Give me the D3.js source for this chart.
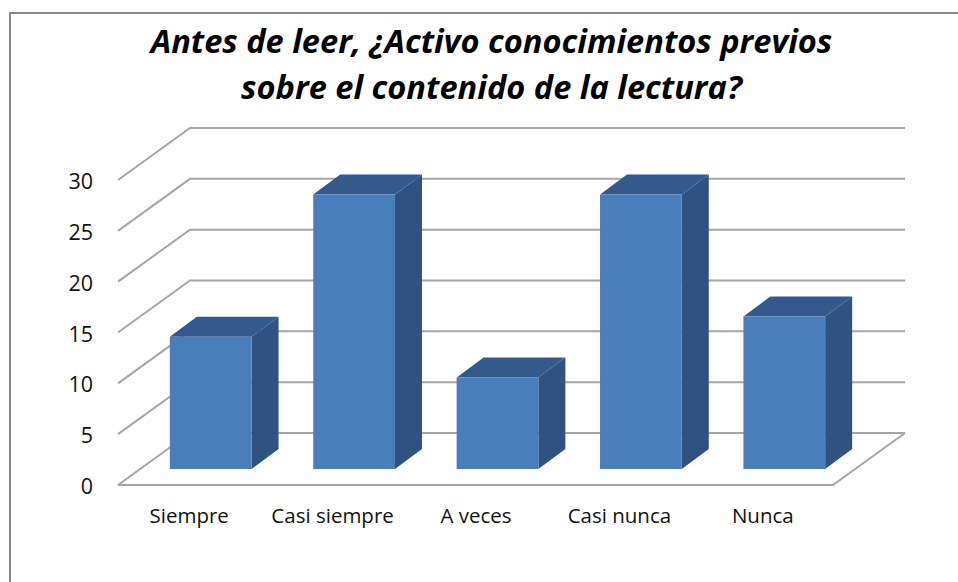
<!DOCTYPE html>
<html><head><meta charset="utf-8">
<script src="https://cdn.jsdelivr.net/npm/d3@7"></script>
<style>html,body{margin:0;padding:0;background:#fff;overflow:hidden}</style>
</head><body><svg id="c" width="958" height="582"></svg>
<script>
const categories = ["Siempre","Casi siempre","A veces","Casi nunca","Nunca"];
const values = [13,27,9,27,15];
const yTicks = [0,5,10,15,20,25,30];
const titleLines = ["Antes de leer, ¿Activo conocimientos previos","sobre el contenido de la lectura?"];

const svg = d3.select("#c");
const font = "'Open Sans', sans-serif";
const back = {x0:190,x1:905,y0:433,y1:128};
const depth = {dx:72,dy:52};
const barDepth = {dx:27,dy:20};
const barOff = {dx:21,dy:16};

const frame = d3.path();
frame.moveTo(10,582);frame.lineTo(10,13);frame.lineTo(958,13);
svg.append("path").attr("d",frame.toString()).attr("fill","none").attr("stroke","#868686").attr("stroke-width",2);

const y = d3.scaleLinear().domain([0,30]).range([back.y0,back.y1]);
const x = d3.scaleBand().domain(categories).range([118,835]).paddingInner(0.43).paddingOuter(0.215);

const grid = svg.append("g").attr("fill","none").attr("stroke","#a6a6a6").attr("stroke-width",2);
yTicks.forEach(t=>{
  const p = d3.path();
  p.moveTo(back.x0-depth.dx,y(t)+depth.dy);
  p.lineTo(back.x0,y(t));
  p.lineTo(back.x1,y(t));
  grid.append("path").attr("d",p.toString());
});
const floor = d3.path();
floor.moveTo(back.x0-depth.dx,y(0)+depth.dy);
floor.lineTo(back.x1-depth.dx,y(0)+depth.dy);
floor.lineTo(back.x1,y(0));
grid.append("path").attr("d",floor.toString());

const bars = svg.append("g").selectAll("g").data(categories).join("g");
const h = i => y(0)-y(values[i]);
const fx = c => x(c)+barOff.dx;
const base = y(0)+depth.dy-barOff.dy;
bars.append("path").attr("fill","#2f5283").attr("d",(c,i)=>{
  const l=fx(c)+x.bandwidth(),t=base-h(i),p=d3.path();
  p.moveTo(l,t);p.lineTo(l+barDepth.dx,t-barDepth.dy);p.lineTo(l+barDepth.dx,base-barDepth.dy);p.lineTo(l,base);p.closePath();
  return p.toString();
});
bars.append("path").attr("fill","#34598d").attr("d",(c,i)=>{
  const l=fx(c),r=l+x.bandwidth(),t=base-h(i),p=d3.path();
  p.moveTo(l,t);p.lineTo(l+barDepth.dx,t-barDepth.dy);p.lineTo(r+barDepth.dx,t-barDepth.dy);p.lineTo(r,t);p.closePath();
  return p.toString();
});
bars.append("rect").attr("fill","#4a7ebb")
  .attr("x",c=>fx(c)).attr("y",(c,i)=>base-h(i)).attr("width",x.bandwidth()).attr("height",(c,i)=>h(i));

svg.append("g").selectAll("text").data(yTicks).join("text")
  .attr("x",93).attr("y",t=>y(t)+depth.dy+9).attr("text-anchor","end")
  .attr("font-family",font).attr("font-size",21.5).attr("fill","#111").text(t=>t);

svg.append("g").selectAll("text").data(categories).join("text")
  .attr("x",c=>x(c)+x.bandwidth()/2-0.5).attr("y",523).attr("text-anchor","middle")
  .attr("font-family",font).attr("font-size",20.5).attr("fill","#111").text(c=>c);

svg.append("g").selectAll("text").data(titleLines).join("text")
  .attr("x",491.5).attr("y",(d,i)=>53+i*46).attr("text-anchor","middle")
  .attr("font-family",font).attr("font-size",32.6).attr("font-weight",700).attr("font-style","italic")
  .attr("fill","#000").text(d=>d);
</script></body></html>
